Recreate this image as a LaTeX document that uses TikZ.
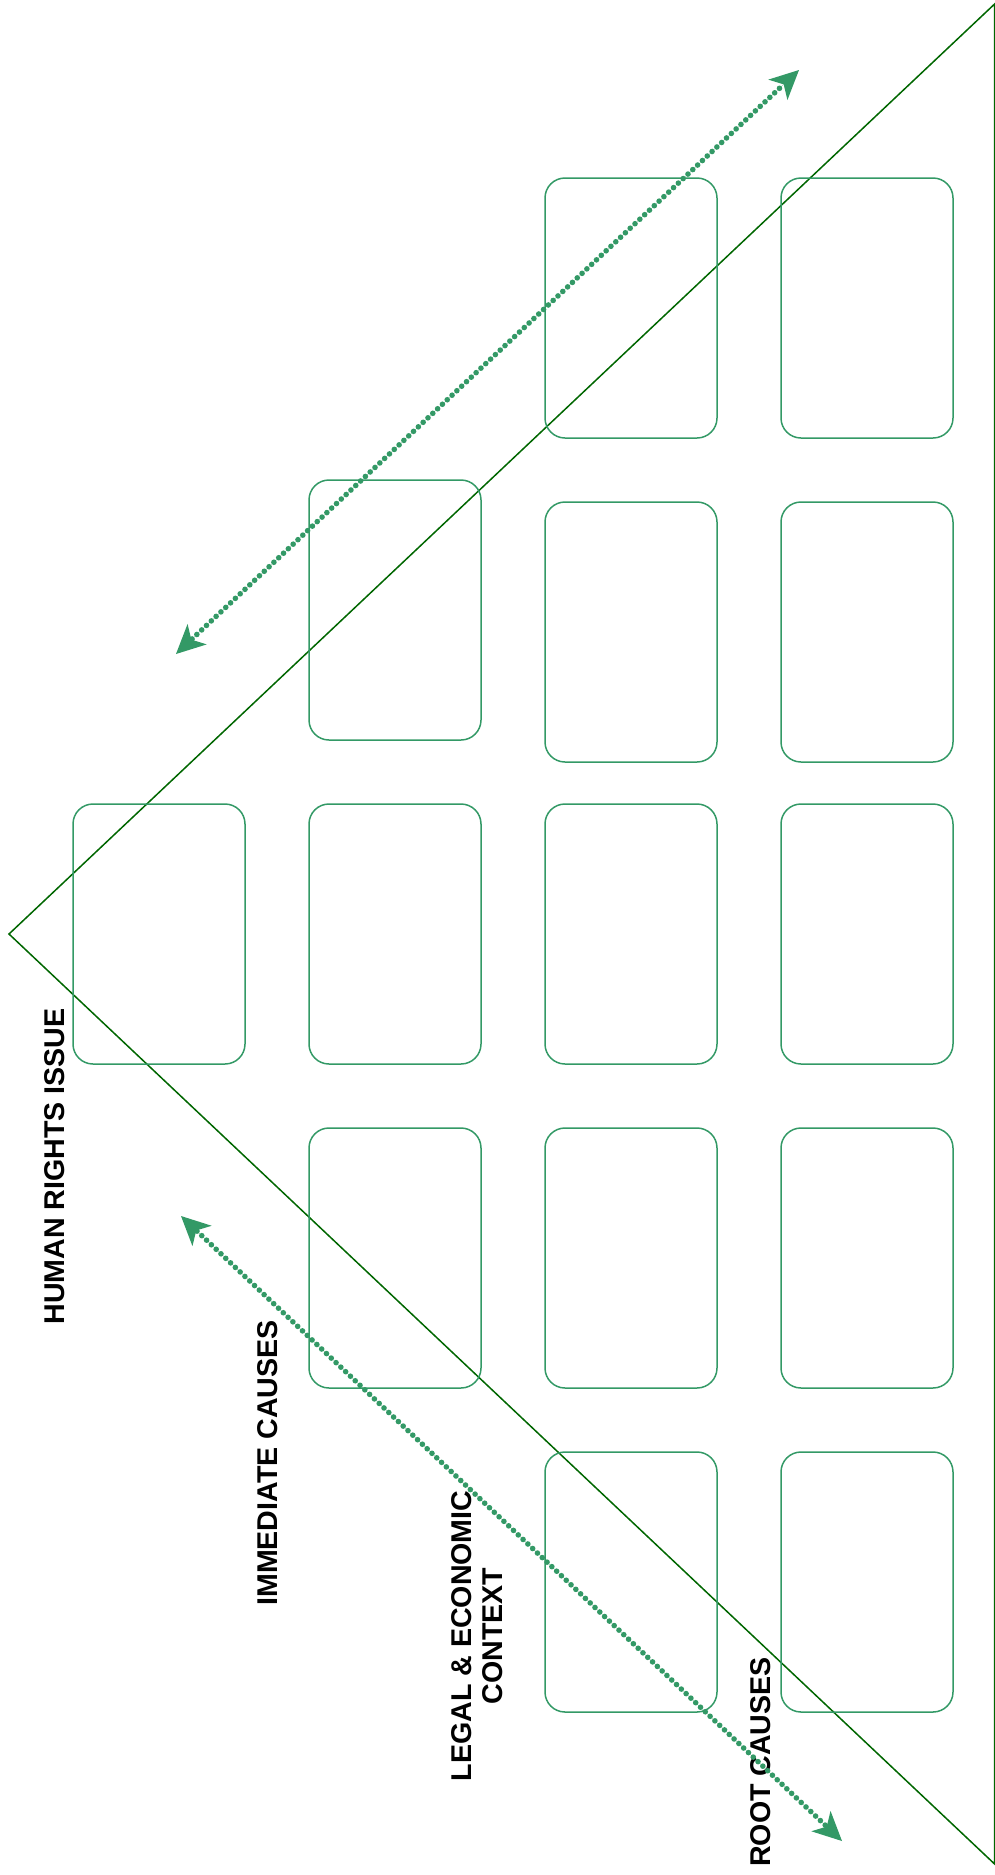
\documentclass[tikz,border=0pt]{standalone}
\usepackage{fontspec}
\setmainfont{Liberation Sans}
\usepackage{xcolor}
\usetikzlibrary{arrows.meta,positioning,decorations.markings}
\definecolor{cardgreen}{HTML}{339966}
\definecolor{linegreen}{HTML}{006600}

\begin{document}
\begin{tikzpicture}[x=1pt,y=-1pt,node distance=64pt,>=Stealth]
\tikzstyle{card}=[rectangle,rounded corners=20pt,draw=cardgreen,line width=1.5pt,minimum width=172pt,minimum height=260pt,inner sep=0pt,outer sep=0pt]
\tikzstyle{label}=[rotate=90,align=center,font=\fontsize{28.6}{31}\selectfont\bfseries]
\tikzstyle{flow}=[draw=cardgreen,line width=0.01pt,
  arrows={Stealth[length=29pt,width=28pt,inset=8pt,line width=0pt]-Stealth[length=29pt,width=28pt,inset=8pt,line width=0pt]},
  postaction={decorate},
  decoration={markings,mark=between positions 22pt and -22pt step 6.6pt with {\fill[cardgreen] (0,0) circle (2.8pt);}}]
\useasboundingbox (0,0) rectangle (994,1875);

% the wedge
\coordinate (apex) at (9,934);
\coordinate (top) at (994.6,4);
\coordinate (bottom) at (994.6,1864);
\draw[linegreen,line width=1.5pt] (apex) -- (top) -- (bottom) -- cycle;

% cards, middle row first
\node[card] (c1) at (159,934) {};
\node[card,right=of c1] (c2) {};
\node[card,right=of c2] (c3) {};
\node[card,right=of c3] (c4) {};
\node[card,below=of c2] (d2) {};
\node[card,below=of c3] (d3) {};
\node[card,below=of c4] (d4) {};
\node[card,below=of d3] (e3) {};
\node[card,below=of d4] (e4) {};
\node[card,above=of c2] (b2) {};
\node[card,above=42pt of c3] (b3) {};
\node[card,above=42pt of c4] (b4) {};
\node[card,above=of b3] (a3) {};
\node[card,above=of b4] (a4) {};

% labels
\node[label] (issue) at (54.5,1166.5) {HUMAN RIGHTS ISSUE};
\node[label] (immediate) at (268,1463) {IMMEDIATE CAUSES};
\node[label] (legal) at (477,1636) {LEGAL \& ECONOMIC\\CONTEXT};
\node[label] (root) at (761,1762) {ROOT CAUSES};

% dotted arrows
\coordinate (upstart) at (176,654);
\coordinate (upend) at (799,70);
\coordinate (lostart) at (181,1216);
\coordinate (loend) at (842,1841);
\draw[flow] (upstart) -- (upend);
\draw[flow] (lostart) -- (loend);
\end{tikzpicture}
\end{document}
